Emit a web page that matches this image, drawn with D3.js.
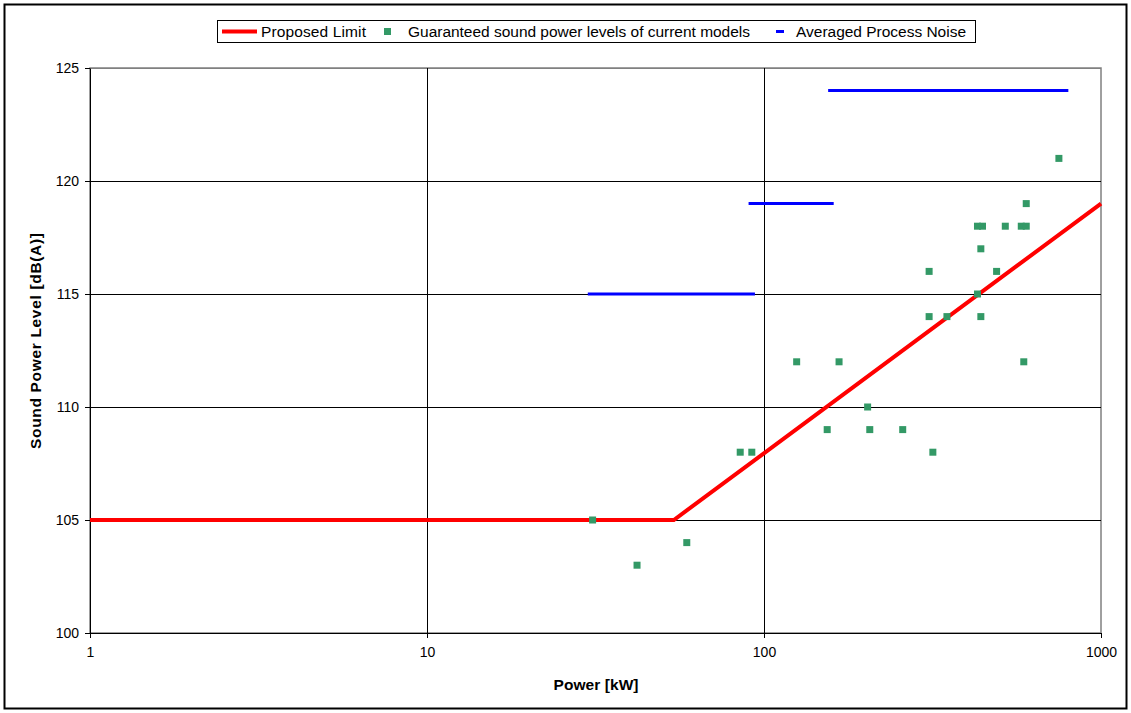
<!DOCTYPE html>
<html>
<head>
<meta charset="utf-8">
<script src="https://cdn.jsdelivr.net/npm/d3@7"></script>
<style>
  body { margin: 0; background: #fff; }
  svg { display: block; font-family: "Liberation Sans", Arial, sans-serif; }
</style>
</head>
<body>
<svg id="chart" width="1131" height="713"></svg>
<script>
// Guaranteed sound power levels of current models
var modelPower = [31, 42, 59, 85, 92, 125, 167, 154, 203, 206, 258, 317, 309, 309, 349,
                  430, 440, 440, 430, 445, 520, 580, 600, 600, 590, 750, 490];
var modelLevel = [105, 103, 104, 108, 108, 112, 112, 109, 110, 109, 109, 108, 116, 114, 114,
                  115, 114, 117, 118, 118, 118, 118, 118, 119, 112, 121, 116];

// Proposed limit (flat, then rising on log scale)
var limitPower = [1, 54, 1000];
var limitLevel = [105, 105, 119];

// Averaged process noise segments
var noiseFrom = [30, 90, 155];
var noiseTo = [94, 161, 800];
var noiseLevel = [115, 119, 124];

var xTicks = [1, 10, 100, 1000];
var yTicks = [100, 105, 110, 115, 120, 125];

var svg = d3.select('#chart');
var margin = {top: 68, right: 30, bottom: 80, left: 90};

var x = d3.scaleLog()
    .domain([1, 1000])
    .range([margin.left, 1101]);

var y = d3.scaleLinear()
    .domain([100, 125])
    .range([633, margin.top]);

// outer frame
svg.append("rect")
    .attr("x", 4.5).attr("y", 4.5)
    .attr("width", 1122).attr("height", 704)
    .attr("fill", "none")
    .attr("stroke", "#000")
    .attr("stroke-width", 2);

// plot area border
svg.append("rect")
    .attr("x", x(1)).attr("y", y(125))
    .attr("width", x(1000) - x(1)).attr("height", y(100) - y(125))
    .attr("fill", "none")
    .attr("stroke", "#808080")
    .attr("stroke-width", 1.5);

// grid
svg.append("g").selectAll("line")
    .data(yTicks)
    .enter().append("line")
    .attr("x1", x(1)).attr("x2", x(1000))
    .attr("y1", function(d) { return y(d) + 0.5; })
    .attr("y2", function(d) { return y(d) + 0.5; })
    .attr("stroke", function(d) { return d === 125 ? "#808080" : "#000"; })
    .attr("stroke-width", 1);

svg.append("g").selectAll("line")
    .data(xTicks.slice(1, 3))
    .enter().append("line")
    .attr("x1", function(d) { return x(d) + 0.5; })
    .attr("x2", function(d) { return x(d) + 0.5; })
    .attr("y1", y(125)).attr("y2", y(100))
    .attr("stroke", "#000")
    .attr("stroke-width", 1);

//Create X axis
var xAxis = d3.axisBottom(x)
    .tickValues(xTicks)
    .tickFormat(d3.format("d"))
    .tickSizeInner(5)
    .tickSizeOuter(0)
    .tickPadding(9);

svg.append("g")
    .attr("transform", "translate(0," + y(100) + ")")
    .call(xAxis)
    .call(function(g) {
        g.selectAll("text").attr("font-size", 14).attr("fill", "#000").attr("font-family", "Liberation Sans, Arial, sans-serif");
        g.selectAll("line").attr("stroke", "#000");
        g.select(".domain").attr("stroke", "#000");
    });

//Create Y axis
var yAxis = d3.axisLeft(y)
    .tickValues(yTicks)
    .tickSizeInner(5)
    .tickSizeOuter(0)
    .tickPadding(6);

svg.append("g")
    .attr("transform", "translate(" + x(1) + ",0)")
    .call(yAxis)
    .call(function(g) {
        g.selectAll("text").attr("font-size", 14).attr("fill", "#000").attr("font-family", "Liberation Sans, Arial, sans-serif");
        g.selectAll("line").attr("stroke", "#000");
        g.select(".domain").attr("stroke", "#000");
    });

// axis titles
svg.append("text")
    .attr("x", 596)
    .attr("y", 690)
    .attr("text-anchor", "middle")
    .attr("font-size", 15.5)
    .attr("font-weight", "bold")
    .attr("textLength", 85)
    .text("Power [kW]");

svg.append("text")
    .attr("transform", "translate(41,341) rotate(-90)")
    .attr("text-anchor", "middle")
    .attr("font-size", 15.5)
    .attr("font-weight", "bold")
    .attr("textLength", 216)
    .text("Sound Power Level [dB(A)]");

// process noise
svg.append("g").selectAll("line")
    .data(noiseLevel)
    .enter().append("line")
    .attr("x1", function(d, i) { return x(noiseFrom[i]); })
    .attr("x2", function(d, i) { return x(noiseTo[i]); })
    .attr("y1", function(d) { return y(d); })
    .attr("y2", function(d) { return y(d); })
    .attr("stroke", "#0000ff")
    .attr("stroke-width", 3);

// proposed limit
var limitLine = d3.line()
    .x(function(d, i) { return x(limitPower[i]); })
    .y(function(d) { return y(d); });

svg.append("path")
    .datum(limitLevel)
    .attr("d", limitLine)
    .attr("fill", "none")
    .attr("stroke", "#ff0000")
    .attr("stroke-width", 4);

// models
svg.append("g").selectAll("rect")
    .data(modelLevel)
    .enter().append("rect")
    .attr("x", function(d, i) { return x(modelPower[i]) - 3.5; })
    .attr("y", function(d) { return y(d) - 3.5; })
    .attr("width", 7).attr("height", 7)
    .attr("fill", "#339966");

// legend
var legend = svg.append("g");
legend.append("rect")
    .attr("x", 217.5).attr("y", 20.5)
    .attr("width", 758).attr("height", 22)
    .attr("fill", "#fff")
    .attr("stroke", "#000")
    .attr("stroke-width", 1);

legend.append("line")
    .attr("x1", 222).attr("x2", 257)
    .attr("y1", 31.5).attr("y2", 31.5)
    .attr("stroke", "#ff0000").attr("stroke-width", 4);
legend.append("text")
    .attr("x", 261).attr("y", 37)
    .attr("font-size", 15.5)
    .attr("textLength", 105)
    .text("Proposed Limit");

legend.append("rect")
    .attr("x", 384).attr("y", 28)
    .attr("width", 7).attr("height", 7)
    .attr("fill", "#339966");
legend.append("text")
    .attr("x", 408).attr("y", 37)
    .attr("font-size", 15.5)
    .attr("textLength", 342)
    .text("Guaranteed sound power levels of current models");

legend.append("line")
    .attr("x1", 776).attr("x2", 784)
    .attr("y1", 31.5).attr("y2", 31.5)
    .attr("stroke", "#0000ff").attr("stroke-width", 3);
legend.append("text")
    .attr("x", 796).attr("y", 37)
    .attr("font-size", 15.5)
    .attr("textLength", 170)
    .text("Averaged Process Noise");
</script>
</body>
</html>
